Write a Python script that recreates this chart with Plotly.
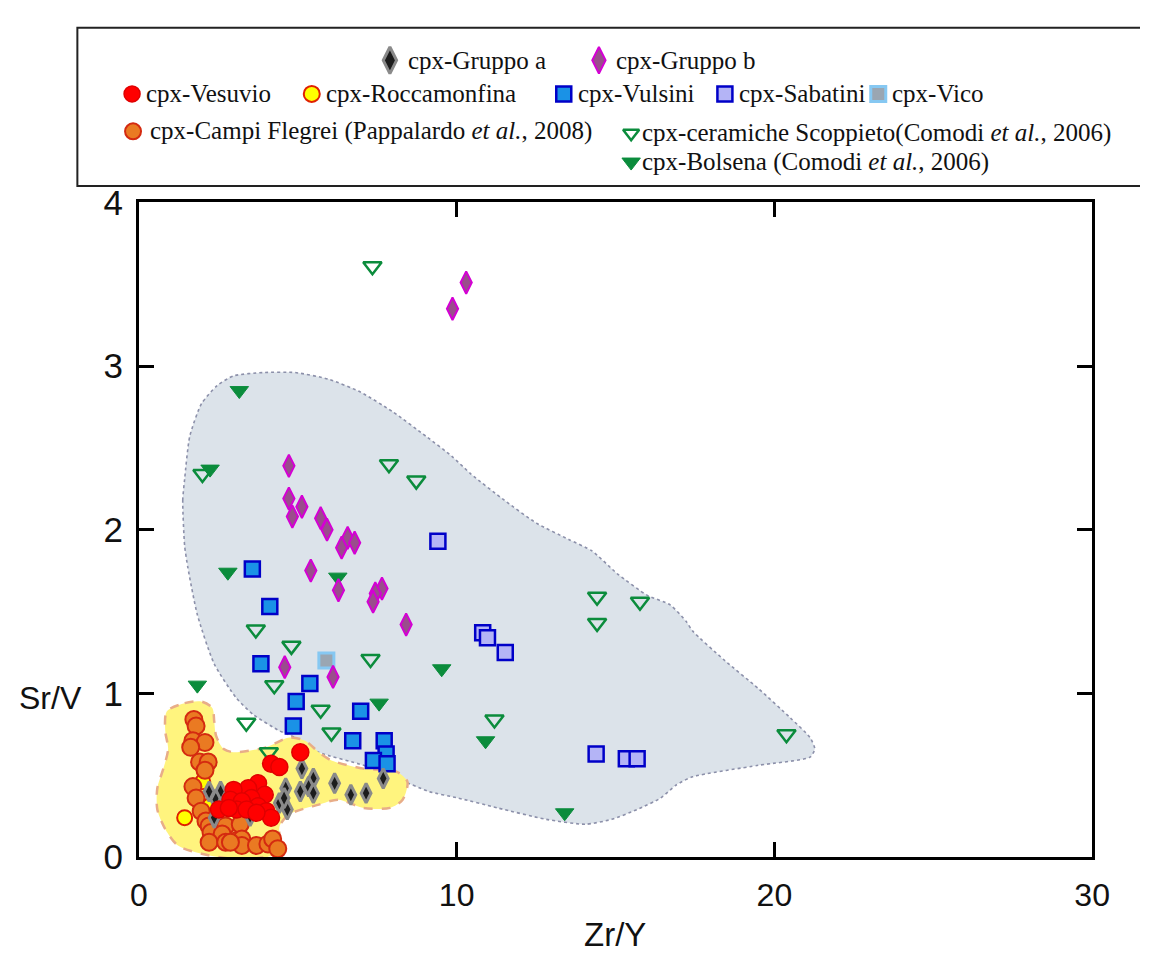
import plotly.graph_objects as go

# ---------------- data (Zr/Y, Sr/V) ----------------
gruppo_a_x = [5.13, 5.49, 6.16, 7.69, 6.67, 7.15, 4.62, 5.08, 5.34, 5.49, 4.42, 4.67, 4.57, 2.21, 2.57, 2.42, 2.57, 3.50, 2.37]
gruppo_a_y = [0.54, 0.48, 0.45, 0.48, 0.38, 0.39, 0.42, 0.40, 0.43, 0.39, 0.33, 0.29, 0.36, 0.40, 0.40, 0.35, 0.30, 0.25, 0.24]

gruppo_b_x = [10.30, 9.87, 4.72, 4.72, 5.13, 4.83, 5.72, 5.92, 6.57, 6.79, 6.38, 5.41, 6.28, 7.65, 7.44, 7.37, 8.41, 4.59, 6.11]
gruppo_b_y = [3.51, 3.35, 2.39, 2.19, 2.14, 2.08, 2.07, 2.00, 1.95, 1.92, 1.89, 1.75, 1.63, 1.64, 1.61, 1.56, 1.42, 1.16, 1.10]

vesuvio_x = [5.08, 4.16, 4.42, 3.75, 3.44, 2.98, 3.96, 3.54, 2.88, 3.24, 3.75, 3.08, 3.39, 4.01, 2.52, 4.16, 3.70, 2.83]
vesuvio_y = [0.64, 0.57, 0.55, 0.45, 0.42, 0.41, 0.38, 0.36, 0.35, 0.34, 0.31, 0.29, 0.29, 0.28, 0.29, 0.24, 0.27, 0.30]

roccamonfina_x = [1.44, 2.01, 2.31, 2.11, 2.21]
roccamonfina_y = [0.24, 0.46, 0.28, 0.23, 0.31]

campi_flegrei_x = [1.73, 1.80, 1.70, 2.08, 1.63, 1.91, 2.18, 2.08, 1.70, 1.80, 1.96, 2.11, 2.21, 2.73, 2.27, 2.62, 3.19,
                   2.21, 2.73, 3.08, 3.24, 3.24, 3.70, 4.06, 4.21, 4.37, 2.88]
campi_flegrei_y = [0.84, 0.80, 0.71, 0.70, 0.67, 0.58, 0.58, 0.53, 0.43, 0.36, 0.28, 0.22, 0.19, 0.19, 0.15, 0.14, 0.20,
                   0.09, 0.09, 0.10, 0.11, 0.07, 0.07, 0.08, 0.11, 0.05, 0.09]

vulsini_x = [3.57, 4.12, 3.84, 5.38, 4.95, 6.98, 6.73, 7.72, 4.86, 7.78, 7.38, 7.81]
vulsini_y = [1.76, 1.53, 1.18, 1.06, 0.95, 0.89, 0.71, 0.71, 0.80, 0.63, 0.59, 0.57]

sabatini_x = [9.41, 10.82, 10.97, 11.53, 14.39, 15.34, 15.68]
sabatini_y = [1.93, 1.37, 1.34, 1.25, 0.63, 0.60, 0.60]

vico_x = [5.90]
vico_y = [1.20]

scoppieto_x = [7.35, 2.00, 7.87, 8.73, 3.68, 4.80, 7.29, 4.26, 5.72, 6.06, 3.38, 4.09, 14.42, 14.42, 15.77, 11.19, 20.38]
scoppieto_y = [3.61, 2.34, 2.40, 2.30, 1.39, 1.29, 1.21, 1.05, 0.90, 0.76, 0.82, 0.64, 1.59, 1.43, 1.56, 0.84, 0.75]

bolsena_x = [3.16, 2.24, 2.80, 6.26, 9.53, 1.84, 7.56, 10.91, 13.40]
bolsena_y = [2.85, 2.37, 1.74, 1.71, 1.15, 1.05, 0.94, 0.71, 0.27]

# outline of the central-Italy field (blue-grey)
field_blue_x = [1.44, 1.38, 1.44, 1.60, 1.97, 2.46, 2.98, 3.90, 4.92, 5.96, 6.98, 7.99, 9.04, 9.84, 10.45, 11.50,
                12.51, 13.53, 14.26, 15.06, 15.99, 16.72, 17.22, 17.43, 18.44, 19.49, 20.50, 21.12, 21.27, 21.12,
                19.49, 17.43, 16.91, 16.42, 15.68, 14.88, 14.05, 12.82, 11.28, 10.05, 9.13, 8.12, 7.07, 5.66,
                4.92, 4.43, 3.60, 3.07, 2.37, 1.84, 1.54, 1.44]
field_blue_y = [1.90, 2.18, 2.31, 2.57, 2.77, 2.88, 2.94, 2.96, 2.96, 2.92, 2.84, 2.72, 2.57, 2.45, 2.34, 2.18,
                2.04, 1.94, 1.87, 1.73, 1.60, 1.54, 1.44, 1.38, 1.20, 1.03, 0.85, 0.73, 0.66, 0.61,
                0.56, 0.49, 0.44, 0.36, 0.29, 0.23, 0.20, 0.23, 0.30, 0.36, 0.40, 0.48, 0.56, 0.64,
                0.73, 0.77, 0.87, 0.97, 1.18, 1.48, 1.77, 1.90]

# outline of the Campanian field (yellow)
field_yellow_x = [0.88, 1.44, 1.96, 2.31, 2.37, 2.43, 2.67, 2.98, 4.00, 4.73, 5.23, 5.66, 6.06, 7.07, 8.12, 8.45,
                  8.30, 7.90, 7.07, 6.27, 5.66, 4.73, 4.43, 4.43, 4.21, 2.98, 1.97, 1.23, 0.83, 0.58, 0.58,
                  0.77, 0.92, 0.83, 0.88]
field_yellow_y = [0.89, 0.94, 0.95, 0.91, 0.83, 0.74, 0.66, 0.64, 0.67, 0.73, 0.71, 0.64, 0.59, 0.54, 0.52, 0.46,
                  0.35, 0.30, 0.30, 0.35, 0.32, 0.26, 0.19, 0.07, 0.01, -0.01, 0.02, 0.07, 0.17, 0.29, 0.42,
                  0.54, 0.66, 0.77, 0.89]

x_ticks = [0, 10, 20, 30]
y_ticks = [0, 1, 2, 3, 4]

# ---------------- styles ----------------
W, H = 1158, 971
PX_LEFT, PX_RIGHT, PX_TOP, PX_BOTTOM = 133, 1109, 190, 872

S = dict(
    gruppo_a=dict(symbol="diamond-tall", size=14, color="#1c1c1c", line=dict(color="#8a8a8a", width=3)),
    gruppo_b=dict(symbol="diamond-tall", size=16, color="#9a4d8c", line=dict(color="#d400d4", width=2)),
    vesuvio=dict(symbol="circle", size=17, color="#ff0000", line=dict(color="#e00000", width=1.5)),
    rocca=dict(symbol="circle", size=15, color="#ffff00", line=dict(color="#e02000", width=2)),
    campi=dict(symbol="circle", size=17, color="#ea7a22", line=dict(color="#d42a10", width=2)),
    vulsini=dict(symbol="square", size=15, color="#1a92e6", line=dict(color="#0000c8", width=2.5)),
    sabatini=dict(symbol="square", size=15, color="#b4b4f6", line=dict(color="#0000c8", width=2.5)),
    vico=dict(symbol="square", size=15, color="#9aa6b2", line=dict(color="#86c8f2", width=3)),
    scoppieto=dict(symbol="triangle-down-open", size=16, color="#0b8c3c", line=dict(color="#0b8c3c", width=2.5)),
    bolsena=dict(symbol="triangle-down", size=16, color="#0b8c3c", line=dict(color="#0b8c3c", width=1)),
)

fig = go.Figure()

# fields
fig.add_trace(go.Scatter(x=field_blue_x, y=field_blue_y, mode="lines", fill="toself",
                         fillcolor="#dce3ea", line=dict(color="#8c90aa", width=1.6, dash="dot", shape="spline",
                                                        smoothing=0.6),
                         hoverinfo="skip", showlegend=False))
fig.add_trace(go.Scatter(x=field_yellow_x, y=field_yellow_y, mode="lines", fill="toself",
                         fillcolor="#fff47e", line=dict(color="#e8ad88", width=2.5, dash="dash", shape="spline",
                                                        smoothing=0.8),
                         hoverinfo="skip", showlegend=False))

def pts(x, y, key, name):
    fig.add_trace(go.Scatter(x=x, y=y, mode="markers", marker=S[key], name=name, showlegend=False))

pts(scoppieto_x, scoppieto_y, "scoppieto", "cpx-ceramiche Scoppieto")
pts(bolsena_x, bolsena_y, "bolsena", "cpx-Bolsena")
pts(vulsini_x, vulsini_y, "vulsini", "cpx-Vulsini")
pts(sabatini_x, sabatini_y, "sabatini", "cpx-Sabatini")
pts(vico_x, vico_y, "vico", "cpx-Vico")
pts(roccamonfina_x, roccamonfina_y, "rocca", "cpx-Roccamonfina")
pts(campi_flegrei_x, campi_flegrei_y, "campi", "cpx-Campi Flegrei")
pts(gruppo_a_x, gruppo_a_y, "gruppo_a", "cpx-Gruppo a")
pts(vesuvio_x, vesuvio_y, "vesuvio", "cpx-Vesuvio")
pts(gruppo_b_x, gruppo_b_y, "gruppo_b", "cpx-Gruppo b")

# ---------------- custom legend (overlay axes in figure pixels) ----------------
legend_items = [
    ("gruppo_a", 390, 42, 408, "cpx-Gruppo a", 19),
    ("gruppo_b", 604, 42, 620, "cpx-Gruppo b", 19),
    ("vesuvio", 126, 77, 139, "cpx-Vesuvio", 16),
    ("rocca", 310, 77, 324, "cpx-Roccamonfina", 16),
    ("vulsini", 568, 77, 582, "cpx-Vulsini", 15),
    ("sabatini", 733, 77, 746, "cpx-Sabatini", 15),
    ("vico", 890, 77, 903, "cpx-Vico", 15),
    ("campi", 127, 116, 143, "cpx-Campi Flegrei (Pappalardo <i>et al.</i>, 2008)", 16),
    ("scoppieto", 637, 118, 647, "cpx-ceramiche Scoppieto(Comodi <i>et al.</i>, 2006)", 14),
    ("bolsena", 637, 148, 647, "cpx-Bolsena (Comodi <i>et al.</i>, 2006)", 16),
]
annotations = []
for key, mx, my, tx, label, sz in legend_items:
    m = dict(S[key])
    m["size"] = sz
    fig.add_trace(go.Scatter(x=[mx], y=[my], mode="markers", marker=m, xaxis="x2", yaxis="y2",
                             showlegend=False, hoverinfo="skip", cliponaxis=False))
    annotations.append(dict(x=tx, y=my, xref="x2", yref="y2", text=label, showarrow=False,
                            xanchor="left", yanchor="middle", borderpad=0,
                            font=dict(family="Liberation Serif, Times New Roman, serif", size=25, color="#111")))

# axis titles
annotations.append(dict(x=42, y=706, xref="x2", yref="y2", text="Sr/V", showarrow=False,
                        xanchor="center", yanchor="middle",
                        font=dict(family="Liberation Sans, Arial, sans-serif", size=32, color="#111")))
annotations.append(dict(x=620, y=953, xref="x2", yref="y2", text="Zr/Y", showarrow=False,
                        xanchor="center", yanchor="middle",
                        font=dict(family="Liberation Sans, Arial, sans-serif", size=33, color="#111")))

shapes = [dict(type="rect", xref="x2", yref="y2", x0=70, x1=1170, y0=8, y1=173,
               line=dict(color="#222", width=2), fillcolor="rgba(0,0,0,0)", layer="below")]

fig.update_layout(
    width=W, height=H,
    margin=dict(l=0, r=0, t=0, b=0),
    paper_bgcolor="white", plot_bgcolor="rgba(0,0,0,0)",
    showlegend=False,
    xaxis=dict(domain=[PX_LEFT / W, PX_RIGHT / W], range=[0, 30], tickvals=x_ticks,
               ticktext=[str(v) for v in x_ticks],
               showline=True, linecolor="black", linewidth=3, mirror="ticks",
               ticks="inside", ticklen=15, tickwidth=2.5, tickcolor="black",
               showgrid=False, zeroline=False,
               tickfont=dict(family="Liberation Sans, Arial, sans-serif", size=32, color="#111"),
               ticklabelstandoff=8, anchor="y"),
    yaxis=dict(domain=[(H - PX_BOTTOM) / H, (H - PX_TOP) / H], range=[0, 4], tickvals=y_ticks,
               ticktext=[str(v) for v in y_ticks],
               showline=True, linecolor="black", linewidth=3, mirror="ticks",
               ticks="inside", ticklen=15, tickwidth=2.5, tickcolor="black",
               showgrid=False, zeroline=False,
               tickfont=dict(family="Liberation Sans, Arial, sans-serif", size=35, color="#111"),
               ticklabelstandoff=6, anchor="x"),
    xaxis2=dict(domain=[0, 1], range=[0, W], visible=False, anchor="y2", fixedrange=True),
    yaxis2=dict(domain=[0, 1], range=[H, 0], visible=False, anchor="x2", fixedrange=True),
    annotations=annotations,
    shapes=shapes,
)

fig.write_html("out.html")
